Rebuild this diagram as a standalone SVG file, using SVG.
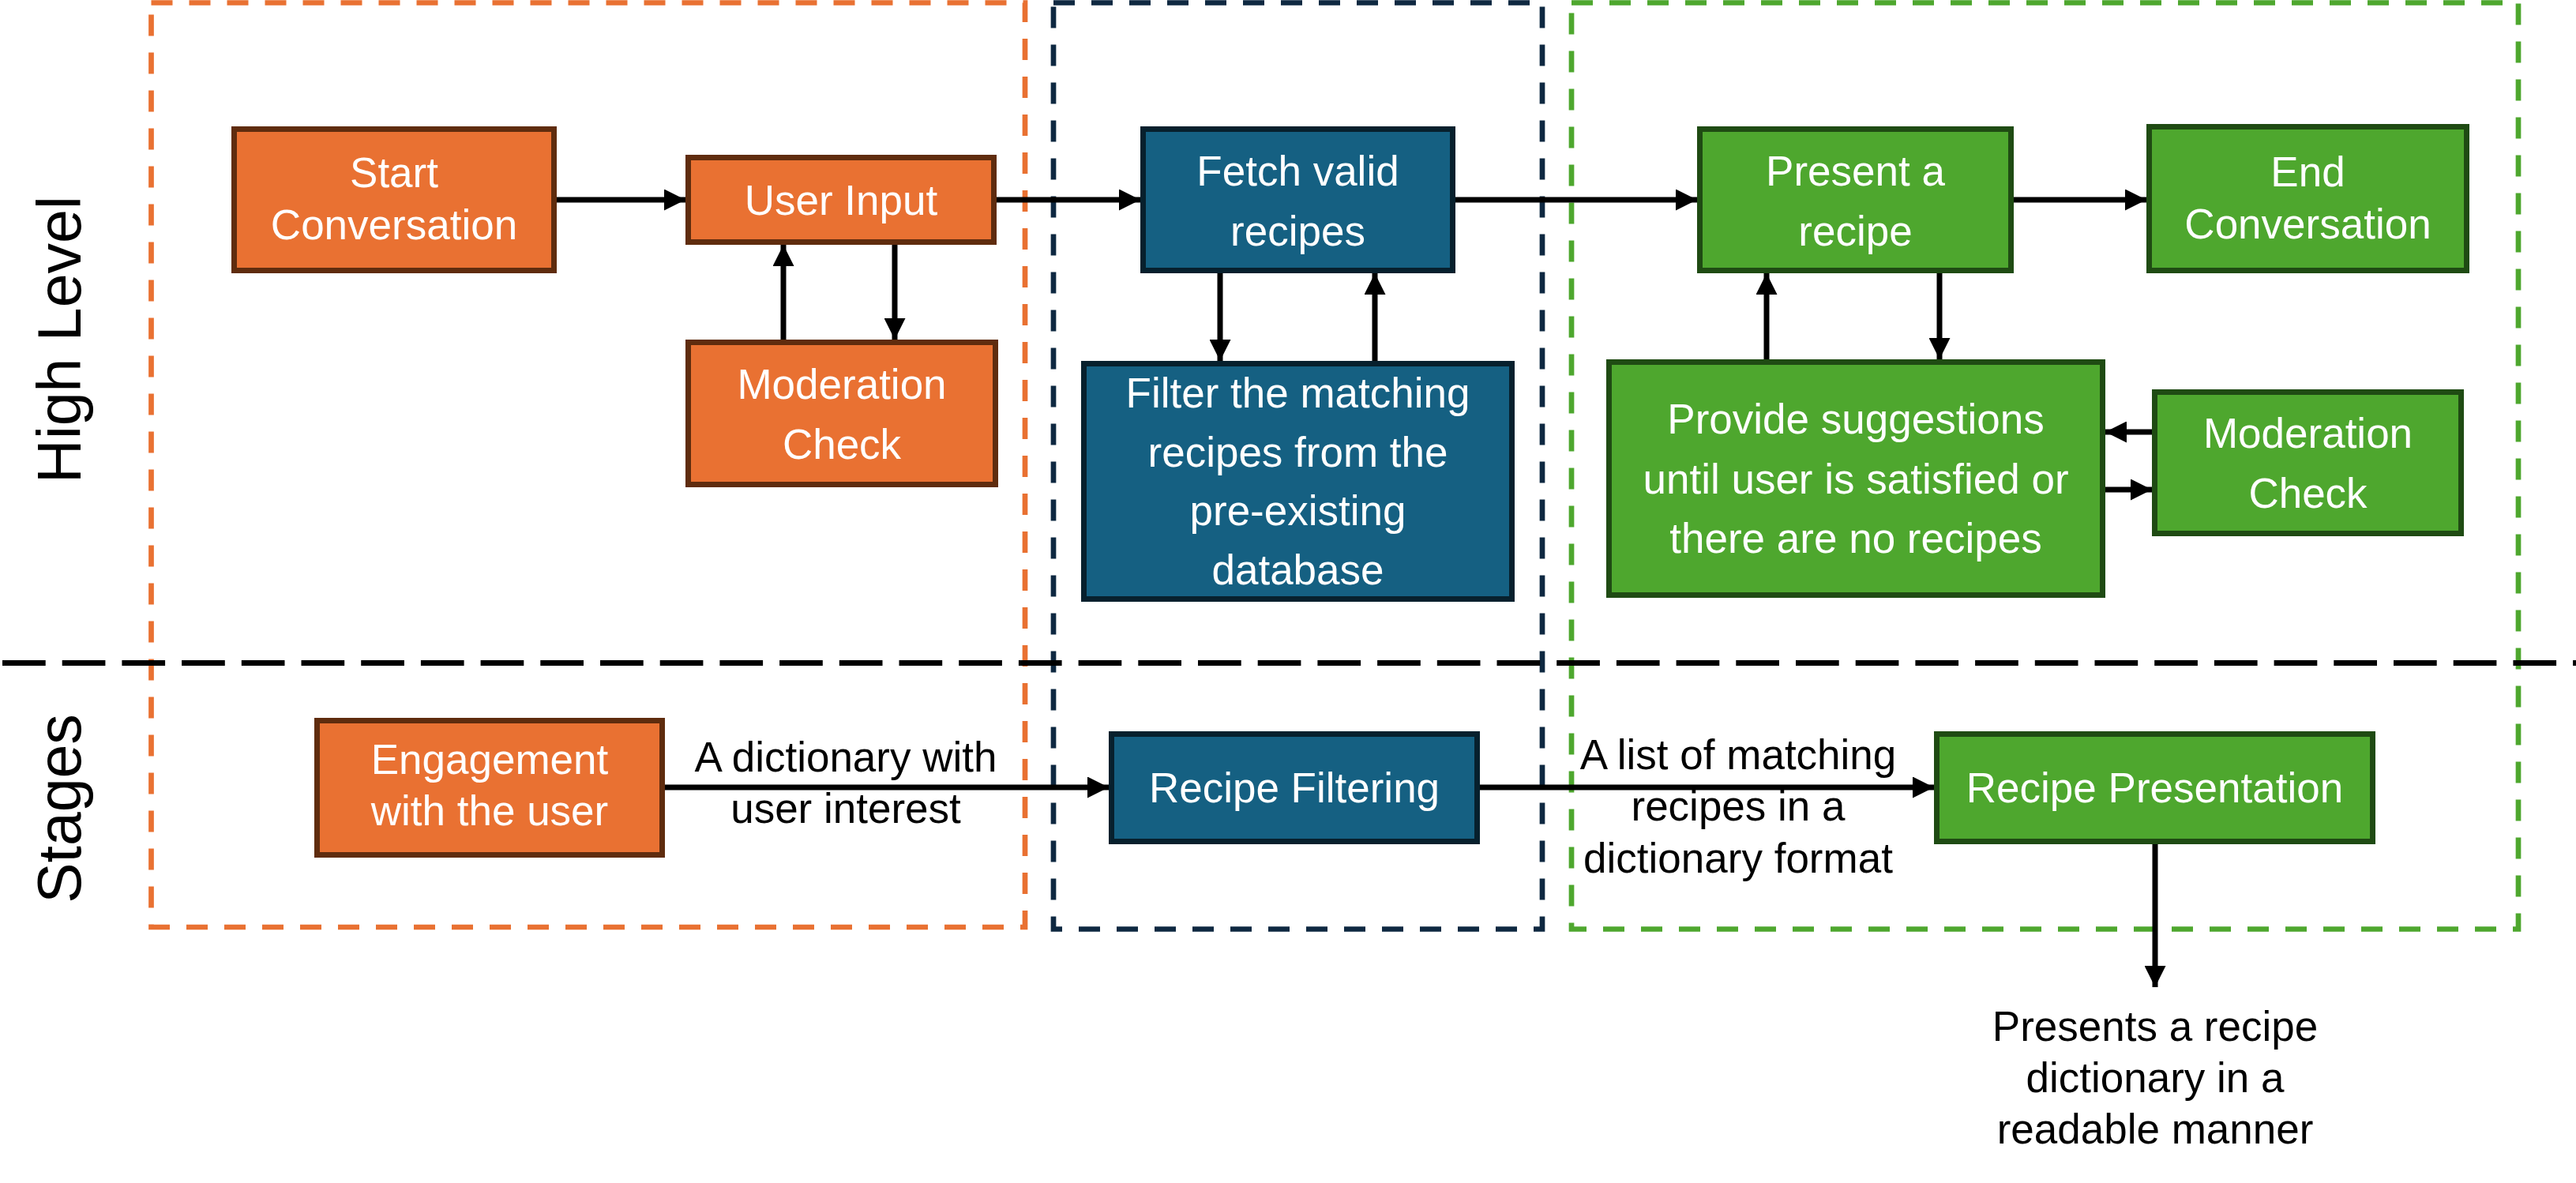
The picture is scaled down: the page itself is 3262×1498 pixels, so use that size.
<svg xmlns="http://www.w3.org/2000/svg" width="3262" height="1498" viewBox="0 0 3262 1498">
<defs>
<style>
.reg{fill:none;stroke-width:6.7;stroke-dasharray:27 21}
.o{fill:#E97132;stroke:#5F2C0E;stroke-width:7}
.b{fill:#156082;stroke:#07202D;stroke-width:7}
.g{fill:#4EA72E;stroke:#1F4B13;stroke-width:7}
.t{font-family:"Liberation Sans",Arial,sans-serif;font-size:53px;fill:#fff;text-anchor:middle}
.l{font-family:"Liberation Sans",Arial,sans-serif;font-size:53px;fill:#000;text-anchor:middle}
.side{font-family:"Liberation Sans",Arial,sans-serif;font-size:77px;fill:#000;text-anchor:middle}
.c{fill:none;stroke:#000;stroke-width:7;marker-end:url(#ah)}
</style>
<marker id="ah" markerUnits="userSpaceOnUse" markerWidth="27" markerHeight="27" refX="27" refY="13.5" orient="auto">
<path d="M0,0 L27,13.5 L0,27 z" fill="#000"/>
</marker>
</defs>
<rect width="3262" height="1498" fill="#fff"/>
<g id="regions">
<rect class="reg" x="191.5" y="3.5" width="1106.5" height="1170.5" stroke="#E97132"/>
<rect class="reg" x="1334" y="3.5" width="619" height="1173" stroke="#0E2841"/>
<rect class="reg" x="1990" y="3.5" width="1199" height="1173" stroke="#4EA72E"/>
<line x1="3" y1="839.5" x2="3262" y2="839.5" stroke="#000" stroke-width="7" stroke-dasharray="54.7 21"/>
</g>
<g id="side-labels">
<text class="side" transform="translate(102,430) rotate(-90)">High Level</text>
<text class="side" transform="translate(102,1024) rotate(-90)">Stages</text>
</g>
<g id="connectors">
<line class="c" x1="705" y1="253" x2="868" y2="253"/>
<line class="c" x1="1262" y1="253" x2="1444" y2="253"/>
<line class="c" x1="1843" y1="253" x2="2149" y2="253"/>
<line class="c" x1="2550" y1="253" x2="2718" y2="253"/>
<line class="c" x1="1133" y1="310" x2="1133" y2="430"/>
<line class="c" x1="992" y1="430" x2="992" y2="310"/>
<line class="c" x1="1545" y1="346" x2="1545" y2="457"/>
<line class="c" x1="1741" y1="457" x2="1741" y2="346"/>
<line class="c" x1="2237" y1="455" x2="2237" y2="346"/>
<line class="c" x1="2456" y1="346" x2="2456" y2="455"/>
<line class="c" x1="2725" y1="547" x2="2666" y2="547"/>
<line class="c" x1="2666" y1="620" x2="2725" y2="620"/>
<line class="c" x1="842" y1="997" x2="1404" y2="997"/>
<line class="c" x1="1874" y1="997" x2="2449" y2="997"/>
<line class="c" x1="2729" y1="1069" x2="2729" y2="1250"/>
<text class="l" x="1071" y="977">A dictionary with</text>
<text class="l" x="1071" y="1042">user interest</text>
<text class="l" x="2201" y="974">A list of matching</text>
<text class="l" x="2201" y="1039">recipes in a</text>
<text class="l" x="2201" y="1105">dictionary format</text>
<text class="l" x="2729" y="1318">Presents a recipe</text>
<text class="l" x="2729" y="1383">dictionary in a</text>
<text class="l" x="2729" y="1448">readable manner</text>
</g>
<g id="start-conversation">
<rect class="o" x="296.5" y="163.5" width="405" height="179"/>
<text class="t" x="499" y="237">Start</text>
<text class="t" x="499" y="303">Conversation</text>
</g>
<g id="user-input">
<rect class="o" x="871.5" y="199.5" width="387" height="107"/>
<text class="t" x="1065" y="272">User Input</text>
</g>
<g id="moderation-check-1">
<rect class="o" x="871.5" y="433.5" width="389" height="180"/>
<text class="t" x="1066" y="505">Moderation</text>
<text class="t" x="1066" y="581">Check</text>
</g>
<g id="fetch-valid-recipes">
<rect class="b" x="1447.5" y="163.5" width="392" height="179"/>
<text class="t" x="1643.5" y="235">Fetch valid</text>
<text class="t" x="1643.5" y="311">recipes</text>
</g>
<g id="filter-recipes">
<rect class="b" x="1372.5" y="460.5" width="542" height="298"/>
<text class="t" x="1643.5" y="516">Filter the matching</text>
<text class="t" x="1643.5" y="591">recipes from the</text>
<text class="t" x="1643.5" y="665">pre-existing</text>
<text class="t" x="1643.5" y="740">database</text>
</g>
<g id="present-recipe">
<rect class="g" x="2152.5" y="163.5" width="394" height="179"/>
<text class="t" x="2349.5" y="235">Present a</text>
<text class="t" x="2349.5" y="311">recipe</text>
</g>
<g id="end-conversation">
<rect class="g" x="2721.5" y="160.5" width="402" height="182"/>
<text class="t" x="2922.5" y="236">End</text>
<text class="t" x="2922.5" y="302">Conversation</text>
</g>
<g id="provide-suggestions">
<rect class="g" x="2037.5" y="458.5" width="625" height="295"/>
<text class="t" x="2350" y="549">Provide suggestions</text>
<text class="t" x="2350" y="625">until user is satisfied or</text>
<text class="t" x="2350" y="700">there are no recipes</text>
</g>
<g id="moderation-check-2">
<rect class="g" x="2728.5" y="496.5" width="388" height="179"/>
<text class="t" x="2922.5" y="567">Moderation</text>
<text class="t" x="2922.5" y="643">Check</text>
</g>
<g id="engagement">
<rect class="o" x="401.5" y="912.5" width="437" height="170"/>
<text class="t" x="620" y="980">Engagement</text>
<text class="t" x="620" y="1045">with the user</text>
</g>
<g id="recipe-filtering">
<rect class="b" x="1407.5" y="929.5" width="463" height="136"/>
<text class="t" x="1639" y="1016">Recipe Filtering</text>
</g>
<g id="recipe-presentation">
<rect class="g" x="2452.5" y="929.5" width="552" height="136"/>
<text class="t" x="2728.5" y="1016">Recipe Presentation</text>
</g>
</svg>
